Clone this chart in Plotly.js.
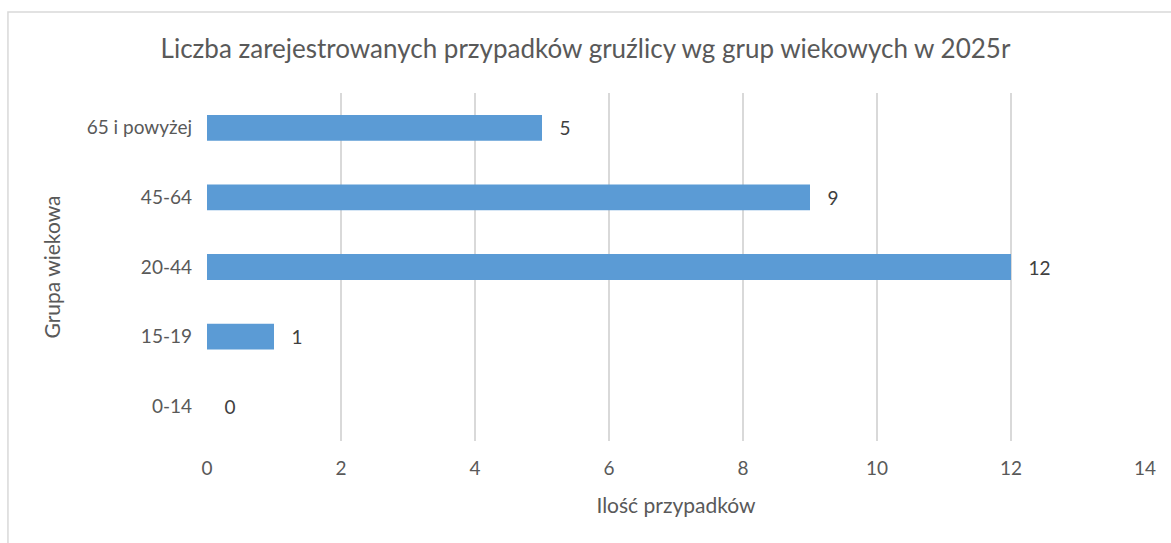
<!DOCTYPE html>
<html>
<head>
<meta charset="utf-8">
<script src="https://cdn.plot.ly/plotly-3.0.1.min.js"></script>
<style>
html,body{margin:0;padding:0;background:#fff;}
#chart{width:1171px;height:543px;}
</style>
</head>
<body>
<div id="chart"></div>
<script>
const categories = ["0-14", "15-19", "20-44", "45-64", "65 i powyżej"];
const cases = [0, 1, 12, 9, 5];
const xTicks = [0, 2, 4, 6, 8, 10, 12, 14];

const trace = {
  type: "bar",
  orientation: "h",
  y: categories,
  x: cases,
  marker: {color: "#5b9bd5"},
  text: cases.map(v => "\u00a0\u00a0\u00a0" + v),
  textposition: "outside",
  cliponaxis: false,
  textfont: {family: "Lato, 'Open Sans', sans-serif", size: 19, color: "#404040"},
  hoverinfo: "x+y"
};

const layout = {
  width: 1171,
  height: 543,
  margin: {l: 207, r: 26, t: 93, b: 102},
  paper_bgcolor: "#ffffff",
  plot_bgcolor: "#ffffff",
  bargap: 0.63,
  showlegend: false,
  font: {family: "Lato, 'Open Sans', sans-serif", color: "#595959"},
  title: {
    text: "Liczba zarejestrowanych przypadków gruźlicy wg grup wiekowych w 2025r",
    font: {family: "Lato, 'Open Sans', sans-serif", size: 26, color: "#595959"},
    x: 0.5, xanchor: "center",
    y: 0.91, yanchor: "middle"
  },
  xaxis: {
    range: [0, 14],
    tickvals: xTicks,
    ticktext: xTicks.map(String),
    showgrid: true,
    gridcolor: "#d9d9d9",
    gridwidth: 1.5,
    zeroline: false,
    showline: false,
    ticks: "",
    ticklabelstandoff: 14,
    tickfont: {size: 19, color: "#595959"},
    title: {text: "Ilość przypadków", font: {size: 21, color: "#595959"}, standoff: 20}
  },
  yaxis: {
    type: "category",
    showgrid: false,
    zeroline: false,
    showline: false,
    ticks: "",
    ticklabelstandoff: 14,
    tickfont: {size: 19, color: "#595959"},
    title: {text: "Grupa wiekowa", font: {size: 21, color: "#595959"}, standoff: 20}
  },
  shapes: [{
    type: "rect", xref: "paper", yref: "paper",
    x0: -0.2122, x1: 1.04, y0: -0.35, y1: 1.2328,
    line: {color: "#d9d9d9", width: 1.5},
    fillcolor: "rgba(0,0,0,0)",
    layer: "below"
  }]
};

Plotly.newPlot("chart", [trace], layout, {displayModeBar: false, staticPlot: true});
</script>
</body>
</html>
